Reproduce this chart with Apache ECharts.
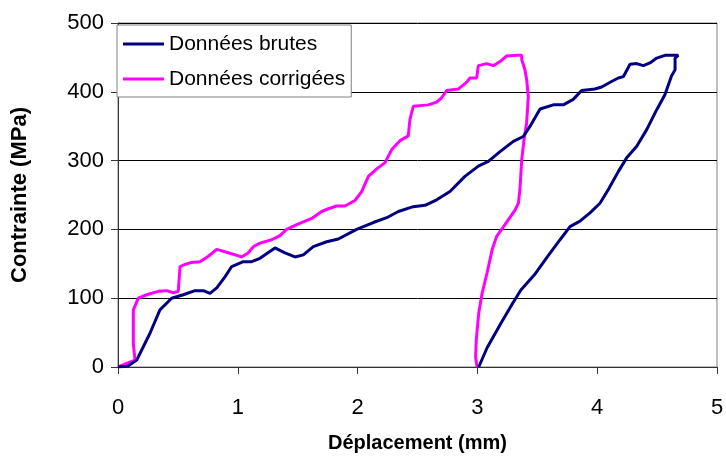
<!DOCTYPE html>
<html>
<head>
<meta charset="utf-8">
<script src="https://cdn.jsdelivr.net/npm/echarts@6/dist/echarts.min.js"></script>
<style>
  html, body { margin: 0; padding: 0; background: #fff; }
  #chart { width: 726px; height: 461px; }
</style>
</head>
<body>
<div id="chart"></div>
<script>
// Stress–displacement curves: raw and corrected data (displacement mm, stress MPa)
const seriesNames = ['Données brutes', 'Données corrigées'];
const xTicks = [0, 1, 2, 3, 4, 5];
const yTicks = [0, 100, 200, 300, 400, 500];

const brutesX = [0, 0.08, 0.156, 0.267, 0.35, 0.448, 0.545, 0.643, 0.712, 0.768, 0.824, 0.893, 0.949, 1.046, 1.116, 1.185, 1.31, 1.394, 1.477, 1.547, 1.63, 1.742, 1.839, 1.992, 2.131, 2.243, 2.34, 2.465, 2.563, 2.66, 2.771, 2.896, 3.008, 3.091, 3.189, 3.3, 3.383, 3.44, 3.523, 3.634, 3.717, 3.8, 3.87, 3.98, 4.037, 4.12, 4.176, 4.218, 4.274, 4.33, 4.385, 4.44, 4.497, 4.566, 4.635, 4.677, 4.65, 4.65, 4.62, 4.59, 4.566, 4.497, 4.413, 4.33, 4.246, 4.176, 4.093, 4.023, 3.94, 3.856, 3.773, 3.69, 3.588, 3.476, 3.363, 3.292, 3.194, 3.081, 3.011];
const brutesY = [0, 1, 10, 49, 83, 100, 105, 111, 111, 107, 115, 131, 146, 153, 153, 158, 173, 166, 160, 163, 175, 182, 186, 200, 210, 217, 226, 233, 235, 243, 255, 277, 292, 299, 313, 328, 335, 350, 375, 381, 381, 389, 402, 404, 407, 415, 420, 422, 440, 441, 438, 442, 449, 453, 453, 453, 449, 432, 423, 408, 396, 374, 345, 321, 304, 284, 258, 238, 224, 212, 204, 185, 161, 134, 112, 92, 63, 28, 0];

const corrX = [0, 0.114, 0.142, 0.128, 0.128, 0.17, 0.24, 0.336, 0.406, 0.462, 0.503, 0.518, 0.559, 0.615, 0.684, 0.754, 0.824, 0.921, 1.032, 1.088, 1.13, 1.185, 1.283, 1.352, 1.408, 1.492, 1.617, 1.7, 1.756, 1.825, 1.895, 1.978, 2.034, 2.09, 2.16, 2.229, 2.285, 2.354, 2.423, 2.437, 2.465, 2.59, 2.66, 2.7, 2.744, 2.84, 2.911, 2.938, 2.994, 3.008, 3.078, 3.133, 3.189, 3.244, 3.328, 3.37, 3.37, 3.397, 3.411, 3.425, 3.411, 3.389, 3.37, 3.355, 3.342, 3.314, 3.23, 3.161, 3.124, 3.081, 3.039, 3.011, 2.991, 2.985, 2.997];
const corrY = [0, 8, 10, 34, 83, 100, 105, 110, 111, 108, 110, 146, 149, 152, 153, 161, 171, 166, 160, 166, 175, 180, 185, 191, 200, 207, 216, 226, 230, 234, 234, 242, 255, 277, 288, 297, 316, 329, 336, 360, 379, 381, 385, 391, 402, 404, 414, 420, 420, 438, 441, 438, 444, 452, 453, 453, 447, 432, 418, 393, 355, 330, 301, 258, 238, 228, 207, 190, 171, 137, 107, 78, 40, 15, 0];

const pairs = (xs, ys) => xs.map((x, i) => [x, ys[i]]);

const chart = echarts.init(document.getElementById('chart'), null, { renderer: 'canvas' });

const font = 'Liberation Sans, Arial, sans-serif';

chart.setOption({
  animation: false,
  backgroundColor: '#ffffff',
  grid: {
    left: 118, right: 9, top: 23, bottom: 94,
    outerBoundsMode: 'none',
    show: true, borderColor: '#808080', borderWidth: 1, backgroundColor: 'transparent'
  },
  legend: {
    orient: 'vertical',
    left: 117, top: 25,
    padding: [8, 6, 7, 6],
    itemWidth: 41, itemHeight: 3, itemGap: 13,
    icon: 'rect',
    backgroundColor: '#ffffff',
    borderColor: '#808080', borderWidth: 1,
    textStyle: { fontFamily: font, fontSize: 21, color: '#000', lineHeight: 22 },
    data: seriesNames
  },
  xAxis: {
    type: 'value', min: 0, max: 5, interval: 1,
    name: 'Déplacement (mm)', nameLocation: 'middle', nameGap: 66,
    nameTextStyle: { fontFamily: font, fontSize: 20, fontWeight: 'bold', color: '#000' },
    axisLine: { show: true, lineStyle: { color: '#333', width: 1 } },
    axisTick: { show: true, length: 7, lineStyle: { color: '#333' } },
    axisLabel: { margin: 30, fontFamily: font, fontSize: 22, color: '#000',
      formatter: v => xTicks.includes(v) ? String(v) : '' },
    splitLine: { show: false }
  },
  yAxis: {
    type: 'value', min: 0, max: 500, interval: 100,
    name: 'Contrainte (MPa)', nameLocation: 'middle', nameGap: 87, nameRotate: 90,
    nameTextStyle: { fontFamily: font, fontSize: 22, fontWeight: 'bold', color: '#000' },
    axisLine: { show: true, lineStyle: { color: '#333', width: 1 } },
    axisTick: { show: true, length: 7, lineStyle: { color: '#333' } },
    axisLabel: { margin: 14, fontFamily: font, fontSize: 22, color: '#000',
      formatter: v => yTicks.includes(v) ? String(v) : '' },
    splitLine: { show: true, lineStyle: { color: '#000', width: 1 } }
  },
  series: [
    {
      name: seriesNames[0], type: 'line', data: pairs(brutesX, brutesY),
      showSymbol: false, symbol: 'none', smooth: false,
      lineStyle: { color: '#000080', width: 3 }, itemStyle: { color: '#000080' }, z: 3
    },
    {
      name: seriesNames[1], type: 'line', data: pairs(corrX, corrY),
      showSymbol: false, symbol: 'none', smooth: false,
      lineStyle: { color: '#ff00ff', width: 3 }, itemStyle: { color: '#ff00ff' }, z: 2
    }
  ]
});
</script>
</body>
</html>
